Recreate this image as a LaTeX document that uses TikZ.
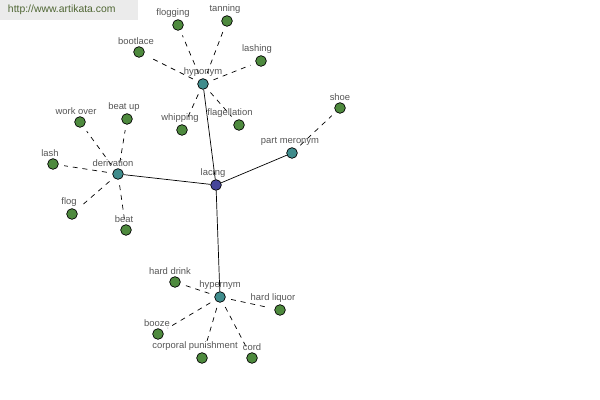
\documentclass[tikz,border=0pt]{standalone}
\usepackage{fontspec}
\setmainfont{Liberation Sans}
\usepackage{xcolor}
\usetikzlibrary{positioning}

\definecolor{leafgreen}{HTML}{4E8A3E}
\definecolor{hubteal}{HTML}{3F8C8C}
\definecolor{rootblue}{HTML}{45459A}
\definecolor{lblgray}{HTML}{555555}
\definecolor{urlgreen}{HTML}{4F6633}

\tikzset{
    dot/.style={circle, draw=black, line width=0.5pt, inner sep=0pt, minimum size=7.6pt},
    leaf/.style={dot, fill=leafgreen},
    hub/.style={dot, fill=hubteal},
    root/.style={dot, fill=rootblue},
    lbl/.style={text=lblgray, font=\fontsize{6.7}{7.5}\selectfont, inner sep=0.5pt},
    rel/.style={line width=0.5pt},
    syn/.style={line width=0.5pt, dash pattern=on 3.5pt off 3.5pt, shorten <=4pt, shorten >=4pt}
}

\begin{document}
\begin{tikzpicture}[x=0.025cm, y=-0.025cm]
        \useasboundingbox (0,0) rectangle (600,400);
        % Watermark
        \fill[black!8] (0,0) rectangle (138,20);
        \node[text=urlgreen, font=\fontsize{7.4}{8.5}\selectfont, anchor=west] (url) at (3,10) {http://www.artikata.com};

        % --- Centre and relation hubs ---
        \node[root] (lacing) at (216,185) {};
        \node[hub] (hyponym) at (203,84) {};
        \node[hub] (derivation) at (118,174) {};
        \node[hub] (meronym) at (292,153) {};
        \node[hub] (hypernym) at (220,297) {};
        \foreach \n in {hyponym, derivation, meronym, hypernym}
            \draw[rel] (lacing) -- (\n);

        % --- Leaves of each hub ---
        \foreach \n/\x/\y/\h in {flogging/178/25/hyponym, tanning/227/21/hyponym,
                bootlace/139/52/hyponym, lashing/261/61/hyponym,
                whipping/182/130/hyponym, flagellation/239/125/hyponym,
                workover/80/122/derivation, beatup/127/119/derivation,
                lash/53/164/derivation, flog/72/214/derivation, beat/126/230/derivation,
                shoe/340/108/meronym,
                harddrink/175/282/hypernym, hardliquor/280/310/hypernym,
                booze/158/334/hypernym, punishment/202/358/hypernym, cord/252/358/hypernym}
        {
            \node[leaf] (\n) at (\x,\y) {};
            \draw[syn] (\h) -- (\n);
        }

        % Labels above the dots
        \foreach \n/\t/\dx in {lacing/lacing/-3, hyponym/hyponym/0, derivation/derivation/-5,
                meronym/part meronym/-2, hypernym/hypernym/0,
                flogging/flogging/-5, tanning/tanning/-2, bootlace/bootlace/-3,
                lashing/lashing/-4, whipping/whipping/-2, flagellation/flagellation/-9,
                workover/work over/-4, beatup/beat up/-3, lash/lash/-3, flog/flog/-3,
                beat/beat/-2, shoe/shoe/0, harddrink/hard drink/-5,
                hardliquor/hard liquor/-7, booze/booze/-1,
                punishment/corporal punishment/-7, cord/cord/0}
            \node[lbl, above=0.6pt of \n, xshift=\dx*0.025cm] {\t};
\end{tikzpicture}
\end{document}
